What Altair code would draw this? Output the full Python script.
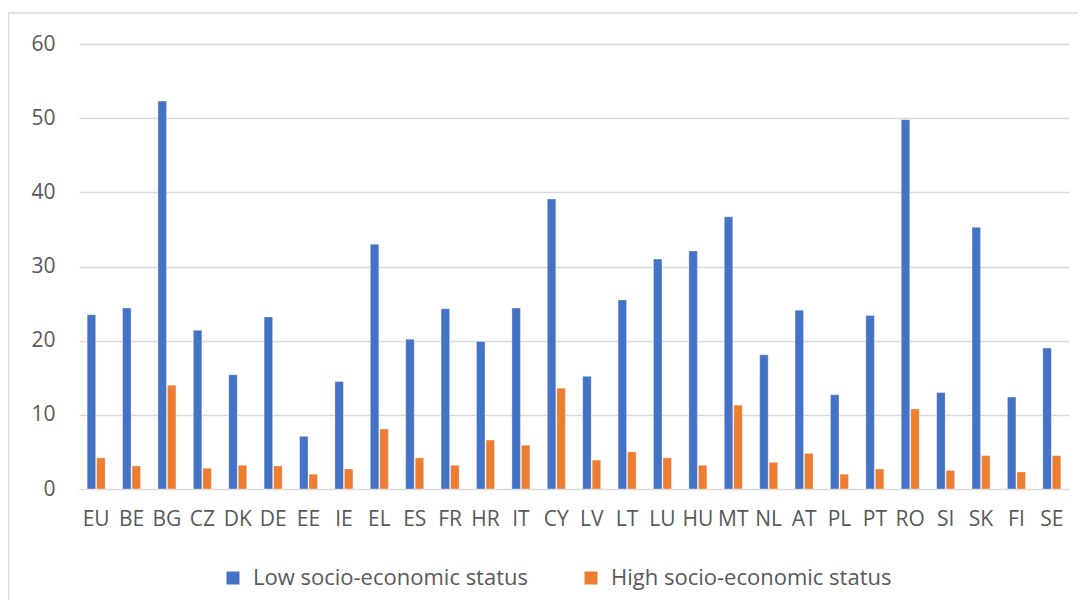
import altair as alt
import pandas as pd

countries = ["EU", "BE", "BG", "CZ", "DK", "DE", "EE", "IE", "EL", "ES", "FR", "HR", "IT", "CY",
             "LV", "LT", "LU", "HU", "MT", "NL", "AT", "PL", "PT", "RO", "SI", "SK", "FI", "SE"]
low_ses = [23.5, 24.4, 52.3, 21.4, 15.4, 23.2, 7.1, 14.5, 33.0, 20.2, 24.3, 19.9, 24.4, 39.1,
           15.2, 25.5, 31.0, 32.1, 36.7, 18.1, 24.1, 12.7, 23.4, 49.8, 13.0, 35.3, 12.4, 19.0]
high_ses = [4.2, 3.1, 14.0, 2.8, 3.2, 3.1, 2.0, 2.7, 8.1, 4.2, 3.2, 6.6, 5.9, 13.6,
            3.9, 5.0, 4.2, 3.2, 11.3, 3.6, 4.8, 2.0, 2.7, 10.8, 2.5, 4.5, 2.3, 4.5]
series = ["Low socio-economic status", "High socio-economic status"]
colors = ["#4472C4", "#ED7D31"]
y_ticks = [0, 10, 20, 30, 40, 50, 60]

rows = []
for c, lo, hi in zip(countries, low_ses, high_ses):
    rows.append({"country": c, "series": series[0], "value": lo})
    rows.append({"country": c, "series": series[1], "value": hi})
df = pd.DataFrame(rows)

FONT = "Open Sans"
LABEL = "#595959"
GRID = "#D9D9D9"

bars = alt.Chart(df).mark_bar(stroke="white", strokeWidth=0.6, strokeOpacity=0.6).encode(
    x=alt.X("country:N", sort=countries, title=None,
            scale=alt.Scale(paddingInner=0.49, paddingOuter=0.23),
            axis=alt.Axis(labelAngle=0, domain=False, ticks=False, grid=False,
                          labelPadding=19, labelFontSize=21, labelColor=LABEL, labelFont=FONT)),
    xOffset=alt.XOffset("series:N", sort=series, scale=alt.Scale(paddingInner=0.1)),
    y=alt.Y("value:Q", title=None, scale=alt.Scale(domain=[0, 60], nice=False),
            axis=alt.Axis(values=y_ticks, domain=False, ticks=False, grid=True,
                          gridColor=GRID, gridWidth=1.5, labelPadding=24,
                          labelFontSize=21, labelColor=LABEL, labelFont=FONT)),
    color=alt.Color("series:N", sort=series,
                    scale=alt.Scale(domain=series, range=colors),
                    legend=alt.Legend(title=None, orient="none", direction="horizontal",
                                      legendX=143, legendY=523,
                                      symbolType="square", symbolSize=169, symbolStrokeWidth=0,
                                      labelFontSize=22, labelColor=LABEL, labelFont=FONT,
                                      labelOffset=9, columnPadding=52, labelLimit=400)),
)

frame = alt.Chart(alt.Data(values=[{}])).mark_rect(
    fill=None, stroke=GRID, strokeWidth=1.5
).encode(
    x=alt.value(-70.5), y=alt.value(-31), x2=alt.value(1200), y2=alt.value(700)
)

chart = alt.layer(frame, bars).properties(
    width=990, height=445,
    padding={"left": 71, "top": 36, "right": 9, "bottom": 111},
    autosize=alt.AutoSizeParams(type="none"),
    background="white",
).configure_view(stroke=None)

chart.save("out.html", embed_options={"renderer": "svg", "actions": False})
